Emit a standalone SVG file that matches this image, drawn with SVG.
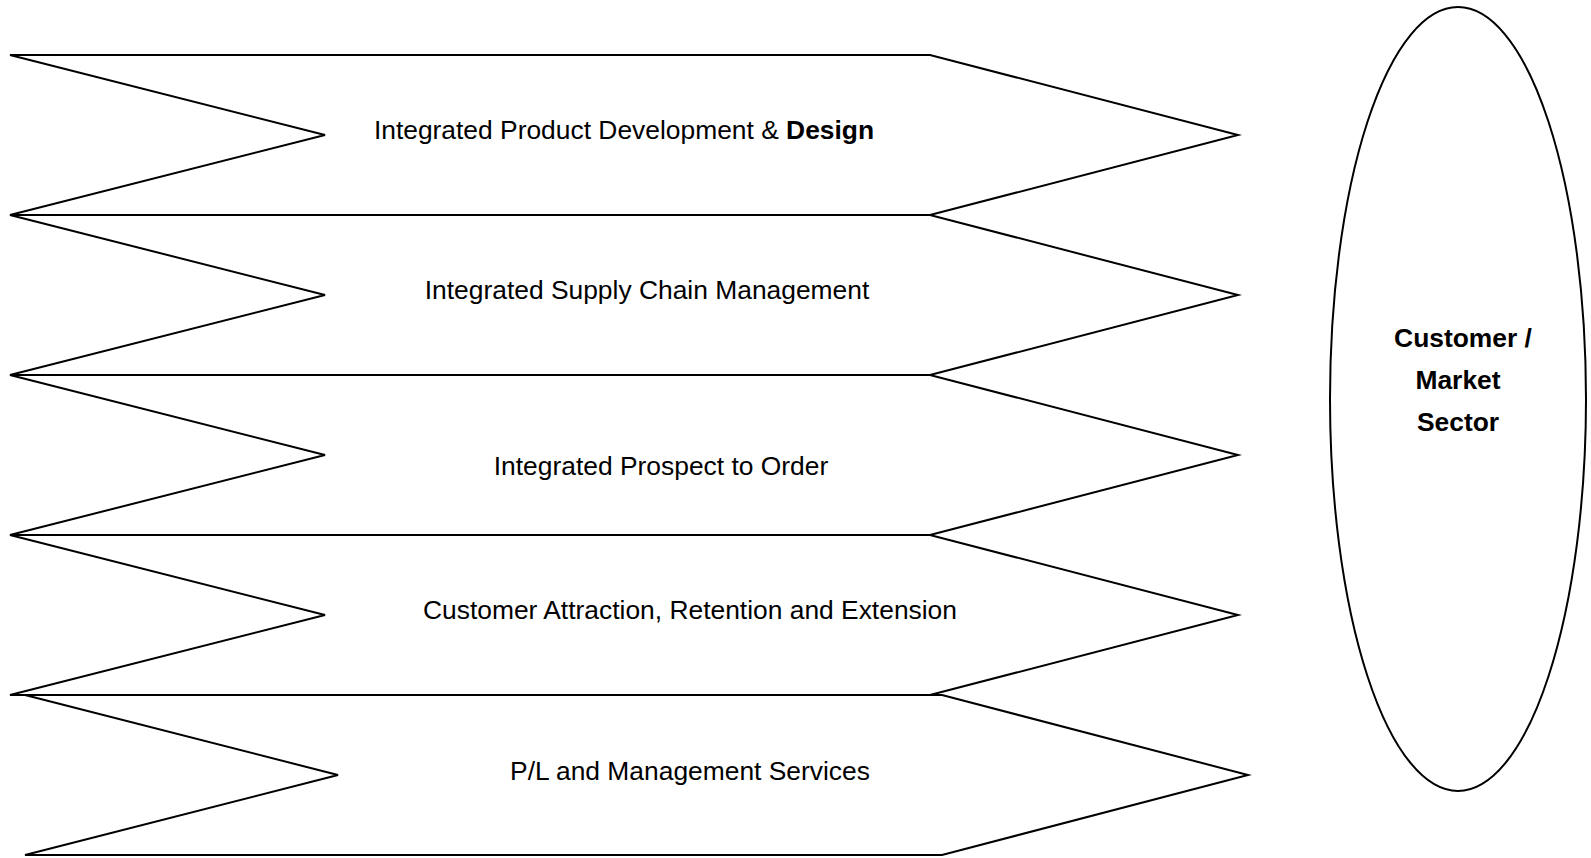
<svg xmlns="http://www.w3.org/2000/svg" width="1591" height="858" viewBox="0 0 1591 858">
<style>
.s{fill:#fff;stroke:#000;stroke-width:2;stroke-linejoin:miter}
.t{font-family:"Liberation Sans",Arial,sans-serif;font-size:26.4px;fill:#000;text-anchor:middle}
.b{font-weight:bold}
</style>
<rect width="1591" height="858" fill="#fff"/>
<g id="node1"><polygon class="s" points="10,55 930,55 1238,135 930,215 10,215 325,135"/>
<text class="t" x="624" y="139">Integrated Product Development &amp; <tspan class="b">Design</tspan></text></g>
<g id="node2"><polygon class="s" points="10,215 930,215 1238,295 930,375 10,375 325,295"/>
<text class="t" x="647" y="299">Integrated Supply Chain Management</text></g>
<g id="node3"><polygon class="s" points="10,375 930,375 1238,455 930,535 10,535 325,455"/>
<text class="t" x="661" y="475">Integrated Prospect to Order</text></g>
<g id="node4"><polygon class="s" points="10,535 930,535 1238,615 930,695 10,695 325,615"/>
<text class="t" x="690" y="619">Customer Attraction, Retention and Extension</text></g>
<g id="node5"><polygon class="s" points="25,695 942,695 1248,775 942,855 25,855 338,775"/>
<text class="t" x="690" y="780">P/L and Management Services</text></g>
<g id="node6"><ellipse class="s" cx="1458" cy="399" rx="128" ry="392"/>
<text class="t b" x="1463" y="347">Customer /</text>
<text class="t b" x="1458" y="389">Market</text>
<text class="t b" x="1458" y="431">Sector</text></g>
<g id="connectors"></g>
</svg>
